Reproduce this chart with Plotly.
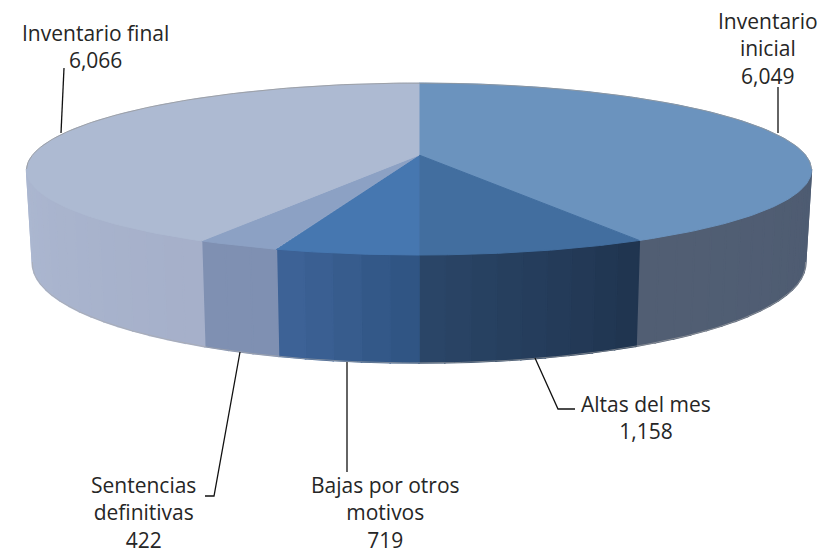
import numpy as np
import plotly.graph_objects as go

# ---- data ----
categories = ["Inventario inicial", "Altas del mes", "Bajas por otros motivos",
              "Sentencias definitivas", "Inventario final"]
values = [6049, 1158, 719, 422, 6066]
label_texts = ["Inventario<br>inicial<br>6,049", "Altas del mes<br>1,158",
               "Bajas por otros<br>motivos<br>719", "Sentencias<br>definitivas<br>422",
               "Inventario final<br>6,066"]
top_colors = ["#6b93be", "#426e9f", "#4677b0", "#8ca1c4", "#adbad2"]
side_start = ["#4e5c72", "#20344f", "#2f5482", "#7f90b2", "#a6b0ca"]
side_end = ["#525f74", "#2b4769", "#3f6499", "#8090b2", "#acb8d1"]

# ---- layout of the drawing (pixels) ----
CX, CY = 419, 155
A, B, K = 386.5, 83.7, 0.163
label_pos = [(768, 48), (646, 417), (385, 512), (143, 512), (95, 46)]
leaders = [[(778, 87), (778, 133)], [(535, 358), (558, 409), (575, 409)],
           [(347, 362), (347, 472)], [(240, 352), (214, 496), (205, 496)],
           [(64, 68), (61, 133)]]


def top(theta):
    u, v = np.sin(theta), -np.cos(theta)
    d = 1 - K * v
    return CX + A * u / d * (1 + 0.012 * v), CY + B * v / d


def bottom(theta):
    x, y = top(theta)
    v = -np.cos(theta)
    return CX + (x - CX) * 0.985, y + 90 + 18 * v


def rgb(h):
    return np.array([int(h[i:i + 2], 16) for i in (1, 3, 5)], dtype=float)


total = sum(values)
edges = np.radians(np.concatenate([[0], np.cumsum(values) / total * 360]))
lim0 = np.arccos(-K)
lim1 = 2 * np.pi - lim0

fig = go.Figure()


def poly(xs, ys, color, line=None, w=1.6):
    fig.add_trace(go.Scatter(x=list(xs), y=list(ys), mode="lines", fill="toself",
                             fillcolor=color, line=dict(color=line or color, width=w),
                             hoverinfo="skip", showlegend=False))


# side wall strips
for i in range(len(values)):
    a0, a1 = max(edges[i], lim0), min(edges[i + 1], lim1)
    if a1 <= a0:
        continue
    n = max(2, int(np.degrees(a1 - a0) / 3))
    grid = np.linspace(a0, a1, n + 1)
    for j in range(n):
        f = (j + 0.5) / n
        c = rgb(side_start[i]) * (1 - f) + rgb(side_end[i]) * f
        col = "rgb(%d,%d,%d)" % tuple(c)
        seg = np.linspace(grid[j], grid[j + 1], 4)
        tx, ty = top(seg)
        bx, by = bottom(seg)
        poly(np.r_[tx, bx[::-1], tx[0]], np.r_[ty, by[::-1], ty[0]], col)

# soft rim on the lower edge
seg = np.linspace(lim0, lim1, 200)
bx, by = bottom(seg)
fig.add_trace(go.Scatter(x=bx, y=by, mode="lines", line=dict(color="rgba(170,170,170,0.6)", width=1),
                         hoverinfo="skip", showlegend=False))

# top faces
for i in range(len(values)):
    seg = np.linspace(edges[i], edges[i + 1], 150)
    x, y = top(seg)
    poly(np.r_[CX, x, CX], np.r_[CY, y, CY], top_colors[i], w=1)

# soft rim on the back edge
seg = np.linspace(-lim0, lim0, 200)
x, y = top(seg)
fig.add_trace(go.Scatter(x=x, y=y, mode="lines", line=dict(color="rgba(150,150,150,0.7)", width=1),
                         hoverinfo="skip", showlegend=False))

# leaders
for pts in leaders:
    fig.add_trace(go.Scatter(x=[p[0] for p in pts], y=[p[1] for p in pts], mode="lines",
                             line=dict(color="#111111", width=1.3), hoverinfo="skip", showlegend=False))

for txt, (lx, ly) in zip(label_texts, label_pos):
    fig.add_annotation(x=lx, y=ly, text=txt, showarrow=False, xanchor="center", yanchor="middle",
                       align="center", font=dict(family="Open Sans", size=21, color="#262626"))

fig.update_layout(width=825, height=555, margin=dict(l=0, r=0, t=0, b=0),
                  paper_bgcolor="white", plot_bgcolor="white", showlegend=False,
                  xaxis=dict(range=[0, 825], visible=False, fixedrange=True),
                  yaxis=dict(range=[555, 0], visible=False, fixedrange=True))
fig.write_html("out.html", config={"displayModeBar": False},
               post_script="document.body.style.margin='0';document.body.style.overflow='hidden';")
